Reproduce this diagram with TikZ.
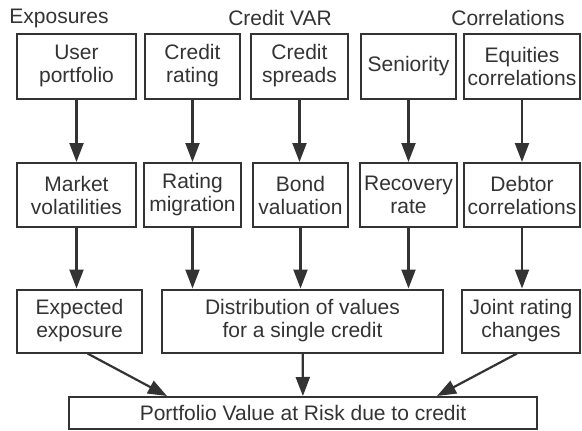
\documentclass[tikz,border=0pt]{standalone}
\usepackage{fontspec}
\setmainfont{Liberation Sans}
\usetikzlibrary{arrows.meta, calc}

\begin{document}
\begin{tikzpicture}[
    every node/.style={font=\fontsize{21}{23}\selectfont, text=ink},
    box/.style={draw=ink, line width=2pt, inner sep=0pt, align=center},
    arr/.style={draw=ink, line width=2.2pt,
                -{Triangle[length=19pt, width=14pt]}},
]

\definecolor{ink}{HTML}{333333}

% pixel coordinates of the reference, y running downwards
\begin{scope}[x=1pt, y=-1pt]

    \useasboundingbox (0,0) rectangle (582,431);

    % ------------------------------------------------------------ headings
    \node (hexpo) at (59,18) {Exposures};
    \node (hvar)  at (280,18) {Credit VAR};
    \node (hcorr) at (508,18) {Correlations};

    % ------------------------------------------------------------ first row
    \node[box, minimum width=119pt, minimum height=65pt] (user)
        at (76.5,66) {User\\portfolio};
    \node[box, minimum width=95pt, minimum height=65pt] (crating)
        at (192.5,66) {Credit\\rating};
    \node[box, minimum width=97pt, minimum height=65pt] (spreads)
        at (299.5,66) {Credit\\spreads};
    \node[box, minimum width=95pt, minimum height=65pt] (senior)
        at (408.5,66) {Seniority};
    \node[box, minimum width=116pt, minimum height=65pt] (equities)
        at (522,66) {Equities\\correlations};

    % ------------------------------------------------------------ second row
    \node[box, minimum width=119pt, minimum height=64pt] (market)
        at (76.5,195) {Market\\volatilities};
    \node[box, minimum width=97pt, minimum height=64pt] (migration)
        at (192.5,195) {Rating\\migration};
    \node[box, minimum width=95pt, minimum height=64pt] (bond)
        at (300.5,195) {Bond\\valuation};
    \node[box, minimum width=97pt, minimum height=64pt] (recovery)
        at (408.5,195) {Recovery\\rate};
    \node[box, minimum width=116pt, minimum height=64pt] (debtor)
        at (522,195) {Debtor\\correlations};

    % ------------------------------------------------------------ third row
    \node[box, minimum width=125pt, minimum height=63pt] (expo)
        at (79.5,321) {Expected\\exposure};
    \node[box, minimum width=281pt, minimum height=63pt] (dist)
        at (302.5,321) {Distribution of values\\for a single credit};
    \node[box, minimum width=118pt, minimum height=63pt] (joint)
        at (521,321) {Joint rating\\changes};

    \node[box, minimum width=468pt, minimum height=32pt] (port)
        at (303,413) {Portfolio Value at Risk due to credit};

    % ------------------------------------------------------------ arrows
    \draw[arr] (user) -- (market);
    \draw[arr] (crating) -- (migration);
    \draw[arr] (spreads.south) -- (spreads.south |- bond.north);
    \draw[arr] (senior) -- (recovery);
    \draw[arr] (equities) -- (debtor);

    \draw[arr] (market.south) -- (market.south |- expo.north);
    \draw[arr] (migration.south) -- (migration.south |- dist.north);
    \draw[arr] (bond.south) -- (bond.south |- dist.north);
    \draw[arr] (recovery.south) -- (recovery.south |- dist.north);
    \draw[arr] (debtor.south) -- (debtor.south |- joint.north);

    \draw[arr] ($(expo.south)+(8,0)$) -- ($(port.north)+(-136,0)$);
    \draw[arr] (dist) -- (port);
    \draw[arr] ($(joint.south)+(-4,0)$) -- ($(port.north)+(134,0)$);

\end{scope}

\end{tikzpicture}
\end{document}
